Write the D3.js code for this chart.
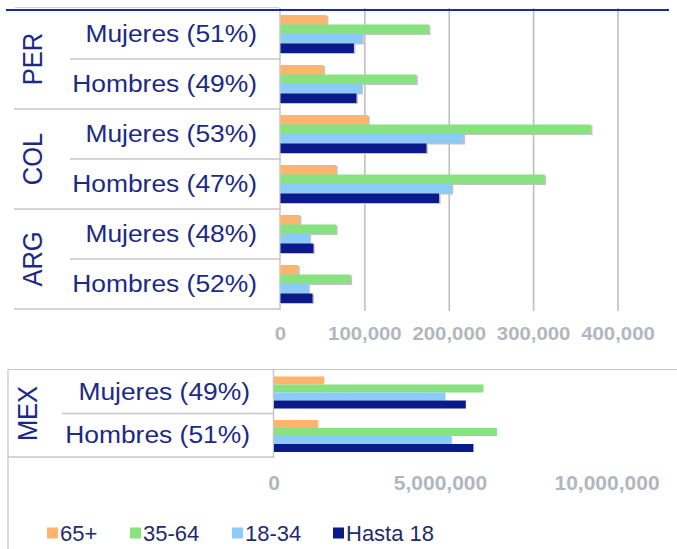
<!DOCTYPE html>
<html><head><meta charset="utf-8">
<script src="https://cdnjs.cloudflare.com/ajax/libs/d3/7.8.5/d3.min.js"></script>
<style>body{margin:0;background:#fff}svg{display:block}text{font-family:"Liberation Sans",Arial,sans-serif}</style>
</head><body>
<script>
// ---- data ----
const series = ["65+", "35-64", "18-34", "Hasta 18"];
const colors = ["#fdb46e", "#88e27f", "#8ccaf8", "#0a1a8a"];
const countriesTop = ["PER", "COL", "ARG"];
const rowLabelsTop = ["Mujeres (51%)", "Hombres (49%)", "Mujeres (53%)", "Hombres (47%)", "Mujeres (48%)", "Hombres (52%)"];
const v65Top   = [55000, 51000, 104000, 66000, 23000, 21000];
const v3564Top = [176000, 161000, 368000, 313000, 66000, 83000];
const v1834Top = [97000, 96000, 217000, 203000, 34500, 33000];
const vU18Top  = [87000, 90000, 173000, 188000, 39000, 38000];
const ticksTop = [0, 100000, 200000, 300000, 400000];

const countriesBot = ["MEX"];
const rowLabelsBot = ["Mujeres (49%)", "Hombres (51%)"];
const v65Bot   = [1510000, 1330000];
const v3564Bot = [6290000, 6700000];
const v1834Bot = [5150000, 5340000];
const vU18Bot  = [5760000, 5990000];
const ticksBot = [0, 5000000, 10000000];

const W = 677, H = 549;
const svg = d3.select("body").append("svg").attr("width", W).attr("height", H);
const labelColor = "#1c2a86";
const lineColor = "#c6c6c6";
const fmt = d3.format(",");

function drawPanel(opt) {
  const {countries, rowLabels, vals, ticks, xRange, xDomain, yRange, innerRange, grid, shadow,
         tickY, tickFont, tickScale, labelRight, tableLeft, sepLeft, countryX, gridTop} = opt;
  const x = d3.scaleLinear().domain(xDomain).range(xRange);
  const y = d3.scaleBand().domain(rowLabels.map((d, i) => i)).range(yRange);
  const inner = d3.scaleBand().domain(series).range(innerRange);
  const g = svg.append("g");
  const x0 = x(0);

  if (grid) {
    g.selectAll(".grid").data(ticks.slice(1)).join("line")
      .attr("x1", d => x(d)).attr("x2", d => x(d))
      .attr("y1", gridTop).attr("y2", yRange[1] + 2)
      .attr("stroke", "#bfbfbf").attr("stroke-width", 1.6);
  }
  g.append("line").attr("x1", x0 - 0.5).attr("x2", x0 - 0.5).attr("y1", gridTop).attr("y2", yRange[1] + 1)
    .attr("stroke", lineColor).attr("stroke-width", 1.5);
  rowLabels.forEach((d, i) => {
    const yb = y(i) + y.bandwidth();
    const isGroupEnd = (i % 2 === 1);
    g.append("line").attr("x1", isGroupEnd ? tableLeft : sepLeft).attr("x2", x0)
      .attr("y1", yb).attr("y2", yb).attr("stroke", lineColor).attr("stroke-width", 1.5);
  });

  series.forEach((s, si) => {
    const arr = vals[si];
    const rows = rowLabels.map((d, i) => ({i, v: arr[i]}));
    if (shadow) {
      g.selectAll(null).data(rows).join("rect")
        .attr("x", x0).attr("y", d => y(d.i) + inner(s) + 1)
        .attr("width", d => x(d.v) - x0 + 1.5).attr("height", inner.bandwidth())
        .attr("fill", "#c4c4c4");
    }
    g.selectAll(null).data(rows).join("rect")
      .attr("x", x0).attr("y", d => y(d.i) + inner(s))
      .attr("width", d => x(d.v) - x0).attr("height", inner.bandwidth())
      .attr("fill", colors[si]);
  });

  rowLabels.forEach((d, i) => {
    const cy = y(i) + y.bandwidth() / 2;
    g.append("text").attr("transform", `translate(${labelRight},${cy + 8}) scale(1.1,1)`)
      .attr("text-anchor", "end").attr("font-size", 24).attr("fill", labelColor).text(d);
  });
  countries.forEach((c, ci) => {
    const cy = y(ci * 2) + y.bandwidth();
    g.append("text").attr("transform", `translate(${countryX},${cy}) rotate(-90) scale(1,1.08)`)
      .attr("text-anchor", "middle").attr("font-size", 25.5).attr("fill", labelColor).text(c);
  });
  g.selectAll(".tl").data(ticks).join("text")
    .attr("transform", d => `translate(${x(d)},${tickY}) scale(${tickScale},1)`)
    .attr("text-anchor", "middle").attr("font-size", tickFont).attr("font-weight", "bold")
    .attr("fill", "#b2b6be").text(d => fmt(d));
}

svg.append("line").attr("x1", 15).attr("x2", 279).attr("y1", 7.5).attr("y2", 7.5)
  .attr("stroke", "#cfcfcf").attr("stroke-width", 1.2);

drawPanel({
  countries: countriesTop, rowLabels: rowLabelsTop,
  vals: [v65Top, v3564Top, v1834Top, vU18Top], ticks: ticksTop,
  xDomain: [0, 400000], xRange: [280.5, 618], yRange: [9, 309], innerRange: [6, 44],
  grid: true, shadow: true, tickY: 340, tickFont: 18.5, tickScale: 1.1,
  labelRight: 257, tableLeft: 14, sepLeft: 70, countryX: 42, gridTop: 8
});
svg.append("line").attr("x1", 6).attr("x2", 669).attr("y1", 10).attr("y2", 10)
  .attr("stroke", "#1a2a9a").attr("stroke-width", 2);

svg.append("line").attr("x1", 8).attr("x2", W).attr("y1", 369.5).attr("y2", 369.5)
  .attr("stroke", lineColor).attr("stroke-width", 1.2);
svg.append("line").attr("x1", 8).attr("x2", 8).attr("y1", 369.5).attr("y2", H)
  .attr("stroke", lineColor).attr("stroke-width", 1.2);

drawPanel({
  countries: countriesBot, rowLabels: rowLabelsBot,
  vals: [v65Bot, v3564Bot, v1834Bot, vU18Bot], ticks: ticksBot,
  xDomain: [0, 10000000], xRange: [274, 607], yRange: [370, 457], innerRange: [6.5, 38.5],
  grid: false, shadow: false, tickY: 490, tickFont: 21, tickScale: 1,
  labelRight: 250, tableLeft: 8, sepLeft: 62, countryX: 37, gridTop: 370
});

const legX = [47, 130, 232, 333];
const leg = svg.append("g");
series.forEach((s, i) => {
  leg.append("rect").attr("x", legX[i]).attr("y", 527.5).attr("width", 11).attr("height", 11).attr("fill", colors[i]);
  leg.append("text").attr("x", legX[i] + 13).attr("y", 540.5).attr("font-size", 22)
    .attr("fill", "#1f2c6e").text(s);
});
</script>
</body></html>
